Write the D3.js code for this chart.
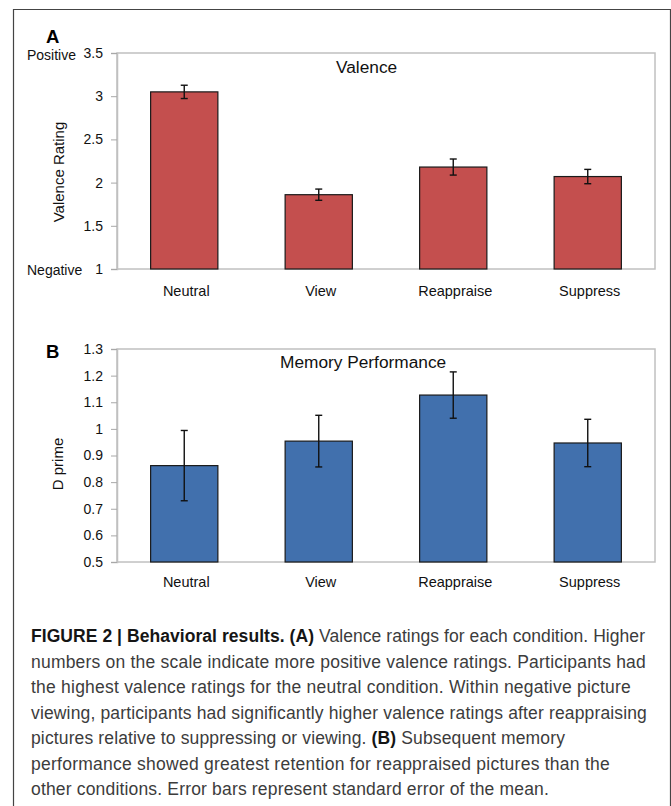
<!DOCTYPE html>
<html>
<head>
<meta charset="utf-8">
<title>Behavioral results</title>
<script src="https://cdn.jsdelivr.net/npm/d3@7"></script>
<style>
  body { margin: 0; background: #fff; }
  svg { display: block; font-family: "Liberation Sans", Arial, sans-serif; }
</style>
</head>
<body>
<div id="chart"></div>
<script>
// data
var categories = ["Neutral", "View", "Reappraise", "Suppress"];
var valence = [3.05, 1.86, 2.18, 2.07];
var valenceErr = [0.077, 0.065, 0.093, 0.083];
var dprime = [0.862, 0.954, 1.127, 0.947];
var dprimeErr = [0.132, 0.097, 0.087, 0.089];
var valenceTicks = [1, 1.5, 2, 2.5, 3, 3.5];
var dprimeTicks = [0.5, 0.6, 0.7, 0.8, 0.9, 1, 1.1, 1.2, 1.3];

var W = 671, H = 806;
var svg = d3.select("#chart").append("svg")
    .attr("width", W)
    .attr("height", H);

// figure frame
svg.append("path")
    .attr("d", "M13.5," + H + "V9.5H670.5V" + H)
    .attr("fill", "none")
    .attr("stroke", "#444")
    .attr("stroke-width", 1.2);

function panel(opt) {
  var left = 117, right = 655;
  var x = d3.scaleBand().domain(categories).range([left, right]).paddingInner(0.5).paddingOuter(0.25);
  var y = d3.scaleLinear().domain(opt.domain).range([opt.bottom, opt.top]);
  var g = svg.append("g");

  // plot box
  g.append("rect")
      .attr("x", left).attr("y", opt.top)
      .attr("width", right - left).attr("height", opt.bottom - opt.top)
      .attr("fill", "none").attr("stroke", "#c0c0c0").attr("stroke-width", 1.5);

  // y axis
  var ax = g.append("g")
      .attr("transform", "translate(" + left + ",0)")
      .call(d3.axisLeft(y).tickValues(opt.ticks).tickSize(6).tickPadding(8)
        .tickFormat(function(d) { return String(+d.toFixed(1)); }));
  ax.select(".domain").attr("stroke", "#c0c0c0").attr("stroke-width", 1.5);
  ax.selectAll(".tick line").attr("stroke", "#a8a8a8");
  ax.selectAll(".tick text").attr("font-size", 14).attr("fill", "#111")
      .attr("font-family", "Liberation Sans, Arial, sans-serif");

  // bars
  g.selectAll(".bar").data(opt.values).enter().append("rect")
      .attr("x", function(d, i) { return x(categories[i]); })
      .attr("y", function(d) { return y(d); })
      .attr("width", x.bandwidth())
      .attr("height", function(d) { return opt.bottom - y(d); })
      .attr("fill", opt.color)
      .attr("stroke", "#1a1a1a")
      .attr("stroke-width", 1.2);

  // error bars
  var eb = g.selectAll(".err").data(opt.values).enter().append("g")
      .attr("stroke", "#111").attr("stroke-width", 1.4);
  eb.append("line")
      .attr("x1", function(d, i) { return x(categories[i]) + x.bandwidth() / 2; })
      .attr("x2", function(d, i) { return x(categories[i]) + x.bandwidth() / 2; })
      .attr("y1", function(d, i) { return y(d - opt.err[i]); })
      .attr("y2", function(d, i) { return y(d + opt.err[i]); });
  [-1, 1].forEach(function(s) {
    eb.append("line")
        .attr("x1", function(d, i) { return x(categories[i]) + x.bandwidth() / 2 - 3.5; })
        .attr("x2", function(d, i) { return x(categories[i]) + x.bandwidth() / 2 + 3.5; })
        .attr("y1", function(d, i) { return y(d + s * opt.err[i]); })
        .attr("y2", function(d, i) { return y(d + s * opt.err[i]); });
  });

  // category labels
  g.selectAll(".cat").data(categories).enter().append("text")
      .attr("x", function(d) { return x(d) + x.bandwidth() / 2 + 2; })
      .attr("y", opt.bottom + opt.catDy)
      .attr("text-anchor", "middle")
      .attr("font-size", 14.5)
      .attr("fill", "#111")
      .text(function(d) { return d; });

  // title inside plot
  g.append("text")
      .attr("x", opt.titleX).attr("y", opt.top + opt.titleDy)
      .attr("font-size", 17.3).attr("fill", "#111")
      .text(opt.title);

  // y label
  g.append("text")
      .attr("transform", "translate(" + opt.labelX + "," + opt.labelY + ") rotate(-90)")
      .attr("text-anchor", "middle")
      .attr("font-size", 15).attr("fill", "#111")
      .text(opt.label);

  // panel letter
  g.append("text")
      .attr("x", 46).attr("y", opt.letterY)
      .attr("font-size", 18.5).attr("font-weight", "bold").attr("fill", "#000")
      .text(opt.letter);
  return y;
}

var yA = panel({
  domain: [1, 3.5], top: 53, bottom: 269, ticks: valenceTicks,
  values: valence, err: valenceErr, color: "#c44f4e",
  title: "Valence", titleX: 336, titleDy: 20, catDy: 27,
  label: "Valence Rating", labelX: 64, labelY: 172,
  letter: "A", letterY: 43
});
svg.append("text").attr("x", 27).attr("y", yA(3.5) + 7)
    .attr("font-size", 14).attr("fill", "#111").text("Positive");
svg.append("text").attr("x", 27).attr("y", yA(1) + 6)
    .attr("font-size", 14).attr("fill", "#111").text("Negative");

panel({
  domain: [0.5, 1.3], top: 349, bottom: 562, ticks: dprimeTicks,
  values: dprime, err: dprimeErr, color: "#4170ad",
  title: "Memory Performance", titleX: 280, titleDy: 19, catDy: 25,
  label: "D prime", labelX: 63, labelY: 464,
  letter: "B", letterY: 358
});

// caption
var caption = [
  [["FIGURE 2 | Behavioral results. (A)", true], [" Valence ratings for each condition. Higher", false]],
  [["numbers on the scale indicate more positive valence ratings. Participants had", false]],
  [["the highest valence ratings for the neutral condition. Within negative picture", false]],
  [["viewing, participants had significantly higher valence ratings after reappraising", false]],
  [["pictures relative to suppressing or viewing. ", false], ["(B)", true], [" Subsequent memory", false]],
  [["performance showed greatest retention for reappraised pictures than the", false]],
  [["other conditions. Error bars represent standard error of the mean.", false]]
];
var captionEnds = [645, 646, 631, 647, 565, 610, 549];

var cap = svg.append("g")
    .attr("font-family", "'Liberation Sans', Arial, sans-serif")
    .attr("font-size", 17.5)
    .attr("fill", "#3c3c3c");
caption.forEach(function(line, i) {
  var t = cap.append("text")
      .attr("x", 31)
      .attr("y", 642 + i * 25.5)
      .attr("xml:space", "preserve");
  line.forEach(function(part) {
    t.append("tspan")
        .attr("font-weight", part[1] ? "bold" : null)
        .attr("fill", part[1] ? "#151515" : null)
        .text(part[0]);
  });
  // squeeze letters so the line ends where it does in the figure
  var natural = t.node().getComputedTextLength();
  var n = line.map(function(p) { return p[0]; }).join("").length;
  t.attr("letter-spacing", ((captionEnds[i] - 31 - natural) / n).toFixed(3));
});
</script>
</body>
</html>
